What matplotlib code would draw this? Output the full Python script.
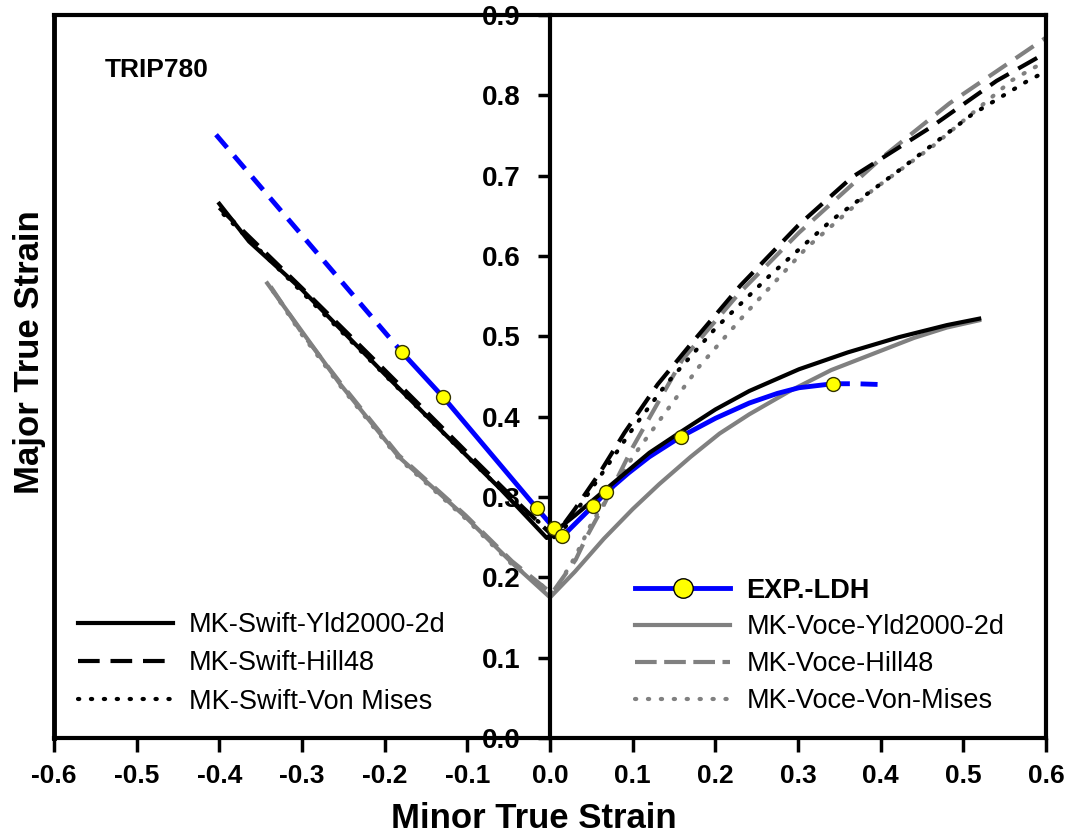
import numpy as np
import matplotlib.pyplot as plt
from matplotlib.lines import Line2D

plt.rcParams['font.family'] = ['Liberation Sans', 'DejaVu Sans']
plt.rcParams['axes.unicode_minus'] = False

# experimental LDH points (yellow markers)
ldh_x = [-0.179, -0.129, -0.016, 0.005, 0.015, 0.052, 0.068, 0.158, 0.342]
ldh_y = [0.480, 0.424, 0.286, 0.261, 0.251, 0.289, 0.306, 0.375, 0.441]
# LDH line (solid part)
ldh_line_x = [-0.179, -0.129, -0.016, 0.005, 0.015, 0.052, 0.068, 0.095, 0.120, 0.158, 0.200, 0.241, 0.275, 0.301, 0.342]
ldh_line_y = [0.480, 0.424, 0.286, 0.261, 0.251, 0.289, 0.306, 0.330, 0.350, 0.375, 0.398, 0.417, 0.429, 0.436, 0.441]
# LDH extrapolated (dashed)
ldh_ext_left_x = [-0.404, -0.179]
ldh_ext_left_y = [0.751, 0.480]
ldh_ext_right_x = [0.342, 0.370, 0.400]
ldh_ext_right_y = [0.441, 0.441, 0.440]

# MK Swift
swift_yld_x = [-0.400, -0.364, -0.300, -0.200, -0.126, -0.060, -0.004, 0.030, 0.069, 0.120, 0.158, 0.200, 0.241, 0.301, 0.360, 0.422, 0.480, 0.519]
swift_yld_y = [0.665, 0.618, 0.558, 0.453, 0.377, 0.310, 0.249, 0.277, 0.311, 0.355, 0.381, 0.409, 0.432, 0.459, 0.480, 0.499, 0.514, 0.522]
swift_hill_x = [-0.400, -0.300, -0.200, -0.100, -0.040, 0.005, 0.030, 0.060, 0.090, 0.130, 0.170, 0.230, 0.300, 0.365, 0.460, 0.540, 0.600]
swift_hill_y = [0.660, 0.560, 0.458, 0.355, 0.294, 0.250, 0.285, 0.330, 0.380, 0.440, 0.490, 0.563, 0.638, 0.698, 0.760, 0.818, 0.853]
swift_vm_x = [-0.395, -0.300, -0.200, -0.100, -0.040, 0.010, 0.040, 0.070, 0.100, 0.140, 0.200, 0.265, 0.341, 0.420, 0.510, 0.576, 0.600]
swift_vm_y = [0.652, 0.555, 0.452, 0.350, 0.290, 0.250, 0.295, 0.340, 0.385, 0.440, 0.510, 0.575, 0.645, 0.705, 0.776, 0.817, 0.830]

# MK Voce
voce_yld_x = [-0.342, -0.300, -0.255, -0.183, -0.102, -0.046, 0.000, 0.030, 0.065, 0.100, 0.132, 0.170, 0.205, 0.241, 0.290, 0.340, 0.390, 0.440, 0.480, 0.519]
voce_yld_y = [0.566, 0.506, 0.442, 0.350, 0.275, 0.218, 0.175, 0.207, 0.248, 0.285, 0.316, 0.350, 0.379, 0.403, 0.432, 0.458, 0.478, 0.498, 0.511, 0.520]
voce_hill_x = [-0.338, -0.300, -0.255, -0.183, -0.102, -0.046, 0.002, 0.031, 0.044, 0.062, 0.100, 0.160, 0.229, 0.301, 0.402, 0.483, 0.600]
voce_hill_y = [0.562, 0.504, 0.444, 0.352, 0.277, 0.220, 0.180, 0.222, 0.250, 0.284, 0.362, 0.471, 0.554, 0.629, 0.723, 0.790, 0.872]
voce_vm_x = [-0.335, -0.300, -0.255, -0.183, -0.102, -0.046, 0.004, 0.030, 0.051, 0.063, 0.100, 0.180, 0.237, 0.310, 0.390, 0.462, 0.559, 0.600]
voce_vm_y = [0.556, 0.502, 0.440, 0.348, 0.273, 0.216, 0.180, 0.225, 0.269, 0.288, 0.350, 0.462, 0.529, 0.610, 0.682, 0.736, 0.819, 0.843]

xticks = [-0.6, -0.5, -0.4, -0.3, -0.2, -0.1, 0.0, 0.1, 0.2, 0.3, 0.4, 0.5, 0.6]
yticks = [0.0, 0.1, 0.2, 0.3, 0.4, 0.5, 0.6, 0.7, 0.8, 0.9]

gray = '#808080'
blue = '#0000ff'
lw = 3

fig, ax = plt.subplots(figsize=(10.73, 8.34), dpi=100)
fig.subplots_adjust(left=0.0503, right=0.975, bottom=0.1151, top=0.982)

dash = (5.2, 2.6)
dot = (0.3, 2.8)

ax.plot(voce_vm_x, voce_vm_y, color=gray, lw=lw, dashes=dot, dash_capstyle='round')
ax.plot(voce_hill_x, voce_hill_y, color=gray, lw=lw, dashes=dash)
ax.plot(voce_yld_x, voce_yld_y, color=gray, lw=lw)
ax.plot(swift_vm_x, swift_vm_y, color='black', lw=lw, dashes=dot, dash_capstyle='round')
ax.plot(swift_hill_x, swift_hill_y, color='black', lw=lw, dashes=dash)
ax.plot(ldh_line_x, ldh_line_y, color=blue, lw=3.5)
ax.plot(ldh_ext_left_x, ldh_ext_left_y, color=blue, lw=3.5, dashes=(3.5, 2.2))
ax.plot(ldh_ext_right_x, ldh_ext_right_y, color=blue, lw=3.5, dashes=(3.5, 2.2))
ax.plot(swift_yld_x, swift_yld_y, color='black', lw=lw)
ax.plot(ldh_x, ldh_y, ls='none', marker='o', ms=10, mfc='#ffff00', mec='#333300', mew=1, zorder=5)

ax.set_xlim(-0.6, 0.6)
ax.set_ylim(0, 0.9)

# y axis through zero
ax.spines['left'].set_position(('data', 0))
for s in ax.spines.values():
    s.set_linewidth(3)
ax.axvline(-0.6, color='black', lw=3.5, clip_on=False)

ax.set_xticks(xticks)
ax.set_xticklabels(['%.1f' % v for v in xticks])
ax.set_yticks(yticks)
ax.set_yticklabels(['%.1f' % v for v in yticks])
ax.tick_params(axis='x', direction='out', length=10, width=2.5, pad=9, labelsize=19)
ax.tick_params(axis='y', direction='out', length=9, width=2.5, pad=12, labelsize=20)
for lbl in ax.get_xticklabels() + ax.get_yticklabels():
    lbl.set_fontweight('bold')

ax.set_xlabel('Minor True Strain', fontsize=25, fontweight='bold')
ax.xaxis.set_label_coords(0.484, -0.088)
ax.set_ylabel('Major True Strain', fontsize=25, fontweight='bold')
ax.yaxis.set_label_coords(-0.008, 0.534)

ax.text(0.051, 0.924, 'TRIP780', transform=ax.transAxes, fontsize=19,
        fontweight='bold', va='center', ha='left')

# legends
h_left = [Line2D([], [], color='black', lw=lw),
          Line2D([], [], color='black', lw=lw, dashes=dash),
          Line2D([], [], color='black', lw=lw, dashes=dot, dash_capstyle='round')]
leg1 = ax.legend(h_left, ['MK-Swift-Yld2000-2d', 'MK-Swift-Hill48', 'MK-Swift-Von Mises'],
                 loc='upper left', bbox_to_anchor=(0.024, 0.174), frameon=False,
                 fontsize=19.5, handlelength=3.5, handletextpad=0.6, labelspacing=0.45,
                 borderpad=0, borderaxespad=0)
ax.add_artist(leg1)

h_right = [Line2D([], [], color=blue, lw=3.5, marker='o', ms=14, mfc='#ffff00', mec='black', mew=1),
           Line2D([], [], color=gray, lw=lw),
           Line2D([], [], color=gray, lw=lw, dashes=(5.2, 1.8)),
           Line2D([], [], color=gray, lw=lw, dashes=dot, dash_capstyle='round')]
leg2 = ax.legend(h_right, ['EXP.-LDH', 'MK-Voce-Yld2000-2d', 'MK-Voce-Hill48', 'MK-Voce-Von-Mises'],
                 loc='upper left', bbox_to_anchor=(0.586, 0.222), frameon=False,
                 fontsize=19.5, handlelength=3.5, handletextpad=0.6, labelspacing=0.4,
                 borderpad=0, borderaxespad=0)
leg2.get_texts()[0].set_fontweight('bold')

fig.savefig('out.png', dpi=100)
